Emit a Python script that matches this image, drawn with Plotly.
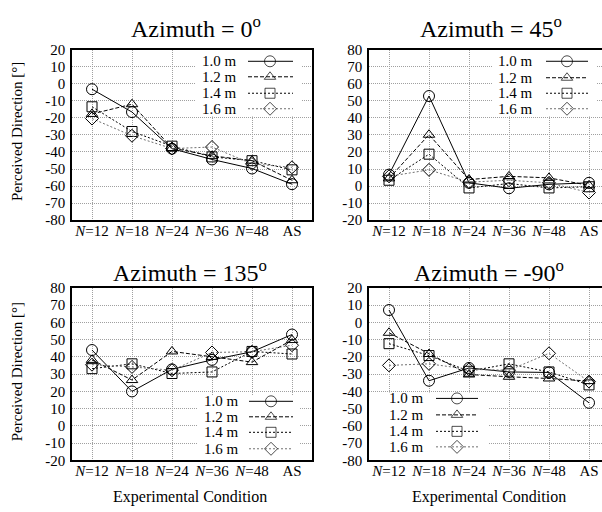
import plotly.graph_objects as go

# ---------------- data ----------------
categories = ["<i>N</i>=12", "<i>N</i>=18", "<i>N</i>=24", "<i>N</i>=36", "<i>N</i>=48", "AS"]
series_names = ["1.0 m", "1.2 m", "1.4 m", "1.6 m"]

az0_d10 = [-3.2, -16.6, -38.1, -44.4, -49.7, -58.9]
az0_d12 = [-17.7, -12.0, -37.7, -42.3, -45.1, -56.6]
az0_d14 = [-13.5, -28.0, -36.6, -42.9, -45.1, -50.5]
az0_d16 = [-20.4, -30.5, -38.0, -37.1, -47.0, -49.0]

az45_d10 = [6.7, 52.8, 1.9, -1.3, 1.0, 1.9]
az45_d12 = [4.5, 30.1, 3.8, 5.7, 4.8, 0.4]
az45_d14 = [3.4, 18.7, -1.1, 1.5, -1.1, -0.4]
az45_d16 = [5.7, 9.5, 2.3, 3.4, 1.9, -3.8]

az135_d10 = [44.0, 20.0, 32.8, 38.3, 43.0, 53.0]
az135_d12 = [38.3, 26.6, 43.2, 40.0, 37.0, 49.8]
az135_d14 = [33.2, 36.0, 30.4, 31.3, 43.2, 41.7]
az135_d16 = [35.5, 34.2, 32.3, 42.6, 43.0, 46.8]

azm90_d10 = [7.2, -33.8, -26.4, -28.7, -29.0, -46.6]
azm90_d12 = [-6.0, -18.3, -30.2, -31.5, -32.5, -34.0]
azm90_d14 = [-12.3, -19.2, -28.3, -24.0, -28.7, -36.2]
azm90_d16 = [-24.9, -24.0, -27.2, -27.7, -17.9, -34.3]

panel_titles = ["Azimuth = 0<sup>o</sup>", "Azimuth = 45<sup>o</sup>",
                "Azimuth = 135<sup>o</sup>", "Azimuth = -90<sup>o</sup>"]
panel_data = [
    [az0_d10, az0_d12, az0_d14, az0_d16],
    [az45_d10, az45_d12, az45_d14, az45_d16],
    [az135_d10, az135_d12, az135_d14, az135_d16],
    [azm90_d10, azm90_d12, azm90_d14, azm90_d16],
]
y_ranges = [(-80, 20), (-20, 80), (-20, 80), (-80, 20)]

# ---------------- style / layout ----------------
W, H = 602, 512
FONT = "'Liberation Serif', 'Times New Roman', Times, 'DejaVu Serif', serif"
px_per_cat = 40
# plot boxes in pixels: (left, top, right, bottom)
boxes = [(72, 43, 312, 219), (369, 43, 602, 219),
         (72, 289, 312, 467), (369, 289, 602, 467)]
title_pos = [(196, 20), (491, 20), (190, 271), (489, 271)]
xtitle_pos = [(190, 505), (489, 505)]
ytitle_pos = [(17, 128), (17, 376)]

line_styles = [
    dict(color="black", width=1, dash="solid"),
    dict(color="black", width=1, dash="4px,2px"),
    dict(color="black", width=1, dash="2px,2px"),
    dict(color="#707070", width=1, dash="2px,2px"),
]
symbols = ["circle-open", "triangle-up-open", "square-open", "diamond-open"]
msizes = [11, 10, 10, 10]

# legend geometry (pixel offsets from plot top-left)
legends = [
    dict(text_r=167, lx0=176, lx1=221, mx=198, rows=[12, 28, 45, 61], box=(123, 230, 0, 69)),
    dict(text_r=166, lx0=177, lx1=219, mx=198, rows=[12, 29, 45, 61], box=(123, 228, 0, 69)),
    dict(text_r=169, lx0=177, lx1=221, mx=199, rows=[117, 133, 149, 166], box=(125, 228, 111, 178)),
    dict(text_r=57, lx0=67, lx1=109, mx=88, rows=[114, 131, 148, 164], box=(0, 119, 108, 178)),
]

fig = go.Figure()
xs = list(range(len(categories)))

for i in range(4):
    L, T, R, B = boxes[i]
    ymin, ymax = y_ranges[i]
    ph = B - T
    xr = [-0.5, -0.5 + (R - L) / px_per_cat]
    ax = "" if i == 0 else str(i + 1)
    xa, ya = "x" + ax, "y" + ax

    def dx(p, xr=xr):
        return xr[0] + p / px_per_cat

    def dy(p, ymin=ymin, ymax=ymax, ph=ph):
        return ymax - p * (ymax - ymin) / ph

    fig.update_layout(**{
        "xaxis" + ax: dict(
            domain=[L / W, R / W], range=xr, anchor=ya,
            tickvals=xs, ticktext=categories,
            showgrid=True, gridcolor="#a0a0a0", griddash="1px,1px", gridwidth=1,
            showline=True, linecolor="black", linewidth=1.5, mirror=True,
            ticks="", ticklabelstandoff=-4, ticklabeloverflow="allow",
            tickfont=dict(family=FONT, size=15, color="black"),
            zeroline=False, fixedrange=True,
        ),
        "yaxis" + ax: dict(
            domain=[1 - B / H, 1 - T / H], range=[ymin, ymax], anchor=xa,
            tickvals=list(range(ymin, ymax + 1, 10)),
            ticktext=[str(v) for v in range(ymin, ymax + 1, 10)],
            showgrid=True, gridcolor="#a0a0a0", griddash="1px,1px", gridwidth=1,
            showline=True, linecolor="black", linewidth=1.5,
            mirror=(i in (0, 2)),
            ticks="outside", ticklen=2, tickcolor="rgba(0,0,0,0)",
            tickfont=dict(family=FONT, size=15, color="black"),
            zeroline=False, fixedrange=True,
        ),
    })

    # data series
    for s in range(4):
        fig.add_trace(go.Scatter(
            x=xs, y=panel_data[i][s], mode="lines+markers",
            line=line_styles[s],
            marker=dict(symbol=symbols[s], size=msizes[s],
                        line=dict(color="black", width=1), color="black"),
            xaxis=xa, yaxis=ya, showlegend=False, hoverinfo="skip",
        ))

    # custom legend (text on left, sample on right)
    lg = legends[i]
    bx0, bx1, by0, by1 = lg["box"]
    fig.add_shape(type="rect", xref=xa, yref=ya,
                  x0=dx(bx0), x1=dx(bx1), y0=dy(by0), y1=dy(by1),
                  fillcolor="white", line=dict(width=0), layer="between")
    for s in range(4):
        yrow = dy(lg["rows"][s])
        fig.add_trace(go.Scatter(
            x=[dx(lg["lx0"]), dx(lg["mx"]), dx(lg["lx1"])], y=[yrow] * 3,
            mode="lines+markers", line=line_styles[s],
            marker=dict(symbol=symbols[s], size=[0, msizes[s], 0],
                        line=dict(color="black", width=1), color="black"),
            xaxis=xa, yaxis=ya, showlegend=False, hoverinfo="skip",
            cliponaxis=False,
        ))
        fig.add_annotation(x=dx(lg["text_r"]), y=yrow, xref=xa, yref=ya,
                           text=series_names[s], showarrow=False,
                           xanchor="right", yanchor="middle",
                           font=dict(family=FONT, size=15, color="black"))

    # panel title
    tx, ty = title_pos[i]
    fig.add_annotation(x=tx / W, y=1 - ty / H, xref="paper", yref="paper",
                       text=panel_titles[i], showarrow=False,
                       xanchor="center", yanchor="middle",
                       font=dict(family=FONT, size=24, color="black"))

for (tx, ty) in xtitle_pos:
    fig.add_annotation(x=tx / W, y=1 - ty / H, xref="paper", yref="paper",
                       text="Experimental Condition", showarrow=False,
                       xanchor="center", yanchor="middle",
                       font=dict(family=FONT, size=16, color="black"))
for (tx, ty) in ytitle_pos:
    fig.add_annotation(x=tx / W, y=1 - ty / H, xref="paper", yref="paper",
                       text="Perceived Direction [°]", showarrow=False,
                       textangle=-90, xanchor="center", yanchor="middle",
                       font=dict(family=FONT, size=15, color="black"))

fig.update_layout(
    width=W, height=H, margin=dict(l=0, r=0, t=0, b=0),
    font=dict(family=FONT, color="black"),
    paper_bgcolor="white", plot_bgcolor="white", showlegend=False,
)

fig.write_html("out.html", config={"displayModeBar": False},
               post_script="document.body.style.margin='0';document.body.style.overflow='hidden';")
